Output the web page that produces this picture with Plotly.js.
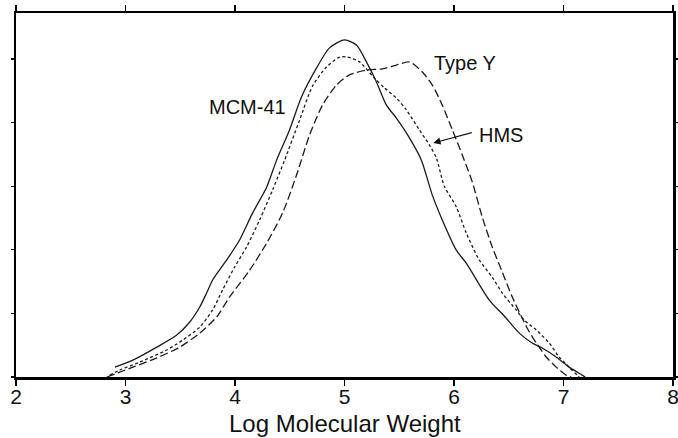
<!DOCTYPE html>
<html>
<head>
<meta charset="utf-8">
<script src="https://cdn.plot.ly/plotly-3.0.1.min.js"></script>
<style>html,body{margin:0;padding:0;background:#fff;}#chart{width:678px;height:438px;}</style>
</head>
<body>
<div id="chart"></div>
<script>
// Log molecular weight (x) and normalised detector response (y)
const mcmX = [2.903,3.067,3.286,3.468,3.587,3.678,3.742,3.796,3.924,4.042,4.161,4.289,4.380,4.498,4.608,4.745,4.863,5.000,5.109,5.200,5.292,5.383,5.474,5.593,5.702,5.802,5.893,6.021,6.112,6.322,6.459,6.596,6.714,6.805,6.933,7.052,7.170,7.197];
const mcmY = [0.031,0.053,0.094,0.132,0.173,0.220,0.265,0.305,0.368,0.431,0.516,0.597,0.682,0.777,0.881,0.972,1.035,1.060,1.044,0.991,0.928,0.855,0.814,0.752,0.682,0.572,0.494,0.399,0.358,0.242,0.192,0.138,0.107,0.091,0.063,0.031,0.006,0];

const hmsX = [2.857,2.948,3.131,3.377,3.523,3.678,3.796,3.887,3.997,4.106,4.225,4.343,4.453,4.590,4.708,4.836,4.954,5.027,5.137,5.273,5.365,5.474,5.565,5.684,5.775,5.839,5.912,6.021,6.112,6.231,6.349,6.441,6.568,6.641,6.751,6.869,6.960,7.052,7.125,7.143];
const hmsY = [0.006,0.022,0.047,0.085,0.116,0.157,0.211,0.274,0.346,0.409,0.494,0.588,0.682,0.808,0.915,0.975,1.006,1.006,0.991,0.940,0.909,0.877,0.840,0.777,0.730,0.689,0.600,0.535,0.453,0.368,0.314,0.264,0.211,0.179,0.148,0.107,0.063,0.031,0.006,0];

const typeYX = [2.830,3.067,3.286,3.495,3.678,3.833,3.951,4.134,4.289,4.435,4.562,4.681,4.799,4.927,5.045,5.200,5.346,5.474,5.593,5.711,5.802,5.893,5.985,6.076,6.167,6.258,6.349,6.441,6.532,6.668,6.751,6.842,6.933,7.024,7.070];
const typeYY = [0,0.031,0.060,0.094,0.138,0.189,0.252,0.336,0.421,0.516,0.635,0.761,0.855,0.918,0.950,0.965,0.969,0.981,0.991,0.959,0.918,0.855,0.777,0.698,0.613,0.503,0.409,0.330,0.252,0.154,0.107,0.063,0.031,0.006,0];

const xTicks = [2,3,4,5,6,7,8];
const xTitle = "Log Molecular Weight";
const labels = ["MCM-41", "Type Y", "HMS"];

const font = "Arial, 'Liberation Sans', Helvetica, sans-serif";
const lineCol = "#1a1a1a";

const traces = [
  {x: mcmX, y: mcmY, mode: "lines", name: labels[0],
   line: {color: lineCol, width: 1.3, shape: "spline", smoothing: 0.7}},
  {x: hmsX, y: hmsY, mode: "lines", name: labels[2],
   line: {color: lineCol, width: 1.3, dash: "3px,2.5px", shape: "spline", smoothing: 0.7}},
  {x: typeYX, y: typeYY, mode: "lines", name: labels[1],
   line: {color: lineCol, width: 1.3, dash: "8px,3.5px", shape: "spline", smoothing: 0.7}}
];

const layout = {
  width: 678, height: 438,
  margin: {l: 16, r: 5, t: 13, b: 61},
  paper_bgcolor: "#fff", plot_bgcolor: "#fff",
  showlegend: false,
  font: {family: font, color: "#111"},
  xaxis: {
    range: [2, 8], tickvals: xTicks, ticktext: xTicks.map(String),
    showline: true, linecolor: "#000", linewidth: 2.5, mirror: "ticks",
    ticks: "outside", ticklen: 6, tickwidth: 1.5, tickcolor: "#000",
    ticklabeloverflow: "allow", ticklabelstandoff: -7,
    showgrid: false, zeroline: false,
    tickfont: {size: 21, family: font, color: "#111"}
  },
  yaxis: {
    range: [0, 1.1447], dtick: 0.2, tick0: 0,
    showline: true, linecolor: "#000", linewidth: 2.5, mirror: "ticks",
    ticks: "outside", ticklen: 3, tickwidth: 1.2, tickcolor: "#000",
    showticklabels: false, showgrid: false, zeroline: false
  },
  annotations: [
    {x: 0.5, y: 0, xref: "paper", yref: "paper", text: xTitle, showarrow: false,
     xanchor: "center", yanchor: "top", yshift: -31,
     font: {size: 24, family: font, color: "#111"}},
    {x: 4.48, y: 0.849, xref: "x", yref: "y", text: labels[0], showarrow: false,
     xanchor: "right", yanchor: "middle", font: {size: 20, family: font, color: "#111"}},
    {x: 5.802, y: 0.987, xref: "x", yref: "y", text: labels[1], showarrow: false,
     xanchor: "left", yanchor: "middle", font: {size: 20, family: font, color: "#111"}},
    {x: 6.213, y: 0.761, xref: "x", yref: "y", text: labels[2], showarrow: false,
     xanchor: "left", yanchor: "middle", font: {size: 20, family: font, color: "#111"}},
    {x: 5.811, y: 0.736, xref: "x", yref: "y", axref: "x", ayref: "y",
     ax: 6.176, ay: 0.770, text: "", showarrow: true,
     arrowhead: 2, arrowsize: 1.2, arrowwidth: 1.2, arrowcolor: "#111"}
  ]
};

Plotly.newPlot("chart", traces, layout, {displayModeBar: false, staticPlot: true});
</script>
</body>
</html>
